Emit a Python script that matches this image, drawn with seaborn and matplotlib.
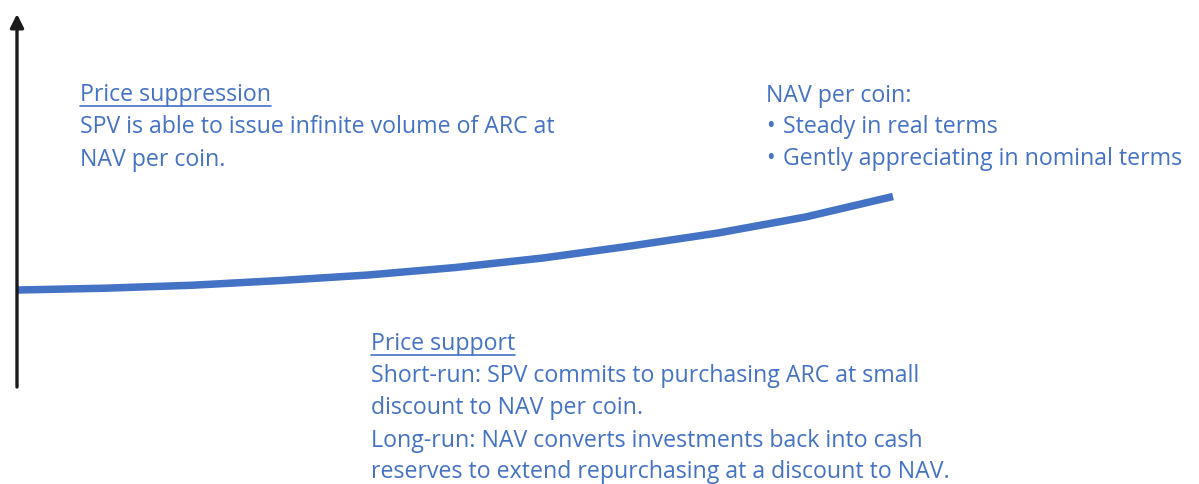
import matplotlib
matplotlib.use("Agg")
import matplotlib.pyplot as plt
import seaborn as sns
import pandas as pd
from matplotlib.lines import Line2D

# ---- data (illustrative NAV path) ----
time = [0, 10, 20, 30, 40, 50, 60, 70, 80, 90, 100]
nav = [0, 1.8, 4.8, 9.5, 15, 22.5, 32, 44, 57, 73, 93.5]

block1 = ["Price suppression",
          "SPV is able to issue infinite volume of ARC at",
          "NAV per coin."]
block2 = ["Price support",
          "Short-run: SPV commits to purchasing ARC at small",
          "discount to NAV per coin.",
          "Long-run: NAV converts investments back into cash",
          "reserves to extend repurchasing at a discount to NAV."]
block3_title = "NAV per coin:"
block3_bullets = ["Steady in real terms",
                  "Gently appreciating in nominal terms"]

BLUE = "#4472C4"
W, H = 1199, 484

sns.set_style("white")
plt.rcParams['font.family'] = ['Open Sans', 'DejaVu Sans']

fig = plt.figure(figsize=(W / 100, H / 100), dpi=100)
ax = fig.add_axes([0, 0, 1, 1])

df = pd.DataFrame({"time": time, "nav": nav})
sns.lineplot(data=df, x="time", y="nav", ax=ax, color=BLUE, linewidth=5.4,
             solid_capstyle="butt", solid_joinstyle="round")

# map: t=0 -> px 18, t=100 -> px 893 ; nav=0 -> px 290 (1 unit = 1 px)
ax.set_xlim(-18 / 8.75, (W - 18) / 8.75)
ax.set_ylim(290 - H, 290)
ax.axis("off")

def fx(px):
    return px / W

def fy(py):
    return 1 - py / H

# vertical arrow (axis)
ax.annotate("", xy=(fx(17), fy(14)), xycoords="figure fraction",
            xytext=(fx(17), fy(387)), textcoords="figure fraction",
            arrowprops=dict(arrowstyle="-|>,head_length=0.8,head_width=0.4",
                            color="#1a1a1a", lw=2.4, shrinkA=0, shrinkB=0))

FS = 16.7
texts_to_underline = []

def put(x, y, s, underline=False):
    t = fig.text(fx(x), fy(y), s, color=BLUE, fontsize=FS, ha="left", va="baseline")
    if underline:
        texts_to_underline.append((t, y))
    return t

# block 1
for i, (s, y) in enumerate(zip(block1, [101, 133, 166])):
    put(80, y, s, underline=(i == 0))

# block 2
for i, (s, y) in enumerate(zip(block2, [350, 382, 414, 447, 478])):
    put(371, y, s, underline=(i == 0))

# block 3
put(766, 102, block3_title)
for s, y in zip(block3_bullets, [133, 165]):
    put(766, y, "\u2022")
    put(783, y, s)

fig.canvas.draw()
r = fig.canvas.get_renderer()
for t, y in texts_to_underline:
    bb = t.get_window_extent(r)
    yy = fy(y + 4.5)
    fig.add_artist(Line2D([bb.x0 / W, bb.x1 / W], [yy, yy], color=BLUE, lw=1.2,
                          transform=fig.transFigure))

fig.savefig("out.png", dpi=100)
